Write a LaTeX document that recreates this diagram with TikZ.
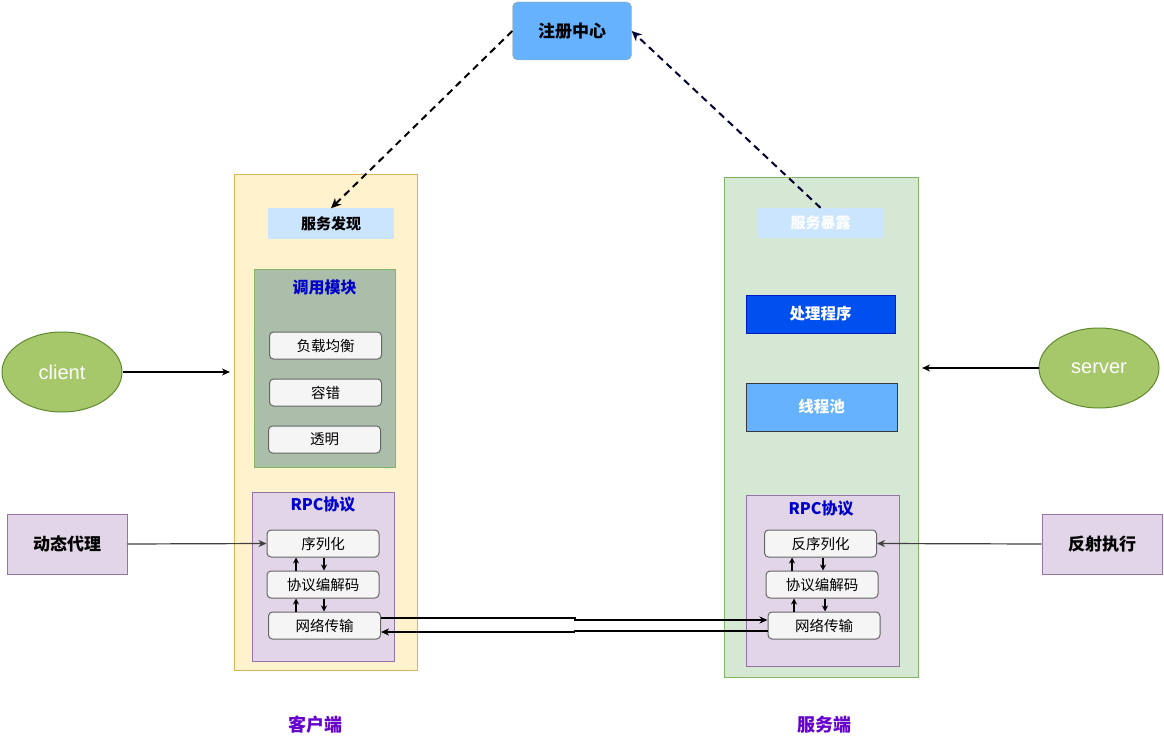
\documentclass[tikz,border=0pt]{standalone}
\usepackage{fontspec}
\setmainfont{Noto Sans CJK SC}
\newfontfamily\latinfont{Liberation Sans}
\usetikzlibrary{shapes.geometric, arrows.meta}

\definecolor{regblue}{HTML}{66B2FF}
\definecolor{regline}{HTML}{AFAF8F}
\definecolor{clientbg}{HTML}{FFF2CC}
\definecolor{clientline}{HTML}{D6B656}
\definecolor{serverbg}{HTML}{D5E8D4}
\definecolor{serverline}{HTML}{82B366}
\definecolor{svcblue}{HTML}{CCE5FF}
\definecolor{modgreen}{HTML}{ABBEAA}
\definecolor{itemfill}{HTML}{F5F5F5}
\definecolor{itemline}{HTML}{666666}
\definecolor{rpcfill}{HTML}{E1D5E7}
\definecolor{rpcline}{HTML}{9673A6}
\definecolor{handlerblue}{HTML}{0050EF}
\definecolor{handlerline}{HTML}{001DBC}
\definecolor{poolline}{HTML}{36393D}
\definecolor{endfill}{HTML}{A6C86B}
\definecolor{endline}{HTML}{5E8A2E}
\definecolor{titleblue}{HTML}{0000CC}
\definecolor{sidepurple}{HTML}{6600CC}
\definecolor{dashnavy}{HTML}{000033}

\tikzstyle{registry} = [rectangle, rounded corners=5pt, minimum width=119pt, minimum height=58pt, draw=regline, fill=regblue, font=\fontsize{17}{20}\selectfont\bfseries]
\tikzstyle{column} = [rectangle, line width=1pt]
\tikzstyle{svcbox} = [rectangle, minimum width=126pt, minimum height=30pt, fill=svcblue, font=\fontsize{15}{18}\selectfont\bfseries]
\tikzstyle{group} = [rectangle, line width=1pt]
\tikzstyle{grouptitle} = [text=titleblue, font=\fontsize{16}{19}\selectfont\bfseries]
\tikzstyle{item} = [rectangle, rounded corners=4pt, minimum width=112pt, minimum height=27pt, draw=itemline, fill=itemfill, line width=1pt, font=\fontsize{14.5}{17}\selectfont]
\tikzstyle{workbox} = [rectangle, line width=1pt, text=white, font=\fontsize{15.5}{18}\selectfont\bfseries]
\tikzstyle{endpoint} = [ellipse, minimum width=120pt, minimum height=80pt, draw=endline, fill=endfill, line width=1pt, text=white, font=\latinfont\fontsize{20}{24}\selectfont]
\tikzstyle{sidebox} = [rectangle, minimum width=120pt, minimum height=60pt, draw=rpcline, fill=rpcfill, line width=1pt, font=\fontsize{17}{20}\selectfont\bfseries]
\tikzstyle{sidelabel} = [text=sidepurple, font=\fontsize{18}{21}\selectfont\bfseries]
\tikzstyle{arrow} = [line width=1.2pt,->,>={Stealth[length=8pt,width=7pt,inset=2.5pt]}]
\tikzstyle{smallarrow} = [line width=1.2pt,->,>={Stealth[length=6pt,width=6pt,inset=2pt]}]
\tikzstyle{dasharrow} = [line width=2pt,->,>={Stealth[length=10pt,width=9pt,inset=3pt]}, dash pattern=on 7pt off 5pt]

\begin{document}
\begin{tikzpicture}[x=1pt, y=-1pt, node distance=41pt]
\useasboundingbox (0,0) rectangle (1164,738);

\node (reg) [registry] at (572,31) {注册中心};

% client side
\node (clientcol) [column, draw=clientline, fill=clientbg, minimum width=183pt, minimum height=495pt] at (325.5,422.5) {};
\node (discover) [svcbox] at (331,223.5) {服务发现};
\node (callmod) [group, draw=serverline, fill=modgreen, minimum width=141pt, minimum height=198pt] at (324.5,368) {};
\node (calltitle) [grouptitle] at (324.5,287) {调用模块};
\node (balance) [item] at (325.5,345.5) {负载均衡};
\node (fault) [item, below of=balance, node distance=47pt] {容错};
\node (transp) [item, below of=fault, node distance=47pt, xshift=-1pt] {透明};
\node (crpc) [group, draw=rpcline, fill=rpcfill, minimum width=142pt, minimum height=169pt] at (323,576.5) {};
\node (crpctitle) [grouptitle] at (323,505) {RPC协议};
\node (cser) [item] at (323,543.5) {序列化};
\node (ccodec) [item, below of=cser] {协议编解码};
\node (cnet) [item, below of=ccodec, xshift=1.5pt] {网络传输};

% server side
\node (servercol) [column, draw=serverline, fill=serverbg, minimum width=194pt, minimum height=499pt] at (821,427.5) {};
\node (expose) [svcbox, text=white] at (820.5,223) {服务暴露};
\node (handler) [workbox, draw=handlerline, fill=handlerblue, minimum width=149pt, minimum height=38pt] at (820.5,314) {处理程序};
\node (pool) [workbox, draw=poolline, fill=regblue, minimum width=151pt, minimum height=48pt] at (821.5,407) {线程池};
\node (srpc) [group, draw=rpcline, fill=rpcfill, minimum width=153pt, minimum height=171pt] at (822.5,580.5) {};
\node (srpctitle) [grouptitle] at (821,509) {RPC协议};
\node (sser) [item] at (820.5,543.5) {反序列化};
\node (scodec) [item, below of=sser, xshift=1.5pt] {协议编解码};
\node (snet) [item, below of=scodec, xshift=2pt] {网络传输};

% outside
\node (client) [endpoint] at (62,372) {client};
\node (server) [endpoint] at (1099,368) {server};
\coordinate (cin) at (230,372);
\coordinate (sin) at (922,368);
\node (proxy) [sidebox] at (67,544) {动态代理};
\node (reflect) [sidebox] at (1102,544) {反射执行};
\node (clabel) [sidelabel] at (315,725) {客户端};
\node (slabel) [sidelabel] at (824,725) {服务端};

\draw [dasharrow] (reg.west) -- (discover.north);
\draw [dasharrow, dashnavy] (expose.north) -- (reg.east);

\draw [arrow] (client.east) -- (cin);
\draw [arrow] (server.west) -- (sin);
\draw [arrow, black!75] (proxy.east) -- (cser.west);
\draw [arrow, black!75] (reflect.west) -- (sser.east);

\draw [smallarrow] ([xshift=-27pt]ccodec.north) -- ([xshift=-27pt]ccodec.north |- cser.south);
\draw [smallarrow] ([xshift=1pt]cser.south) -- ([xshift=1pt]cser.south |- ccodec.north);
\draw [smallarrow] ([xshift=-28.5pt]cnet.north) -- ([xshift=-28.5pt]cnet.north |- ccodec.south);
\draw [smallarrow] ([xshift=1pt]ccodec.south) -- ([xshift=1pt]ccodec.south |- cnet.north);
\draw [smallarrow] ([xshift=-30pt]scodec.north) -- ([xshift=-30pt]scodec.north |- sser.south);
\draw [smallarrow] ([xshift=1pt]scodec.north |- sser.south) -- ([xshift=1pt]scodec.north);
\draw [smallarrow] ([xshift=-30pt]snet.north) -- ([xshift=-30pt]snet.north |- scodec.south);
\draw [smallarrow] ([xshift=1pt]snet.north |- scodec.south) -- ([xshift=1pt]snet.north);

\draw [arrow] ([yshift=7.5pt]cnet.east) -- ++(194pt,0pt) |- ([yshift=5.5pt]snet.west);
\draw [arrow] ([yshift=-5.5pt]snet.west) -- ++(-193pt,0pt) |- ([yshift=-6.5pt]cnet.east);
\end{tikzpicture}
\end{document}
